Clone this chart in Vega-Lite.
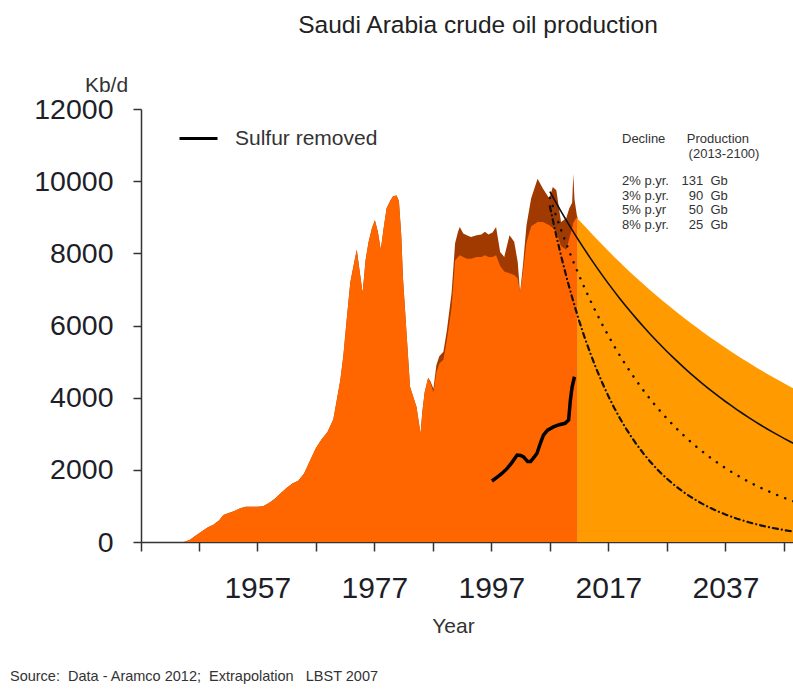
{
  "$schema": "https://vega.github.io/schema/vega-lite/v6.json",
  "width": 652,
  "height": 433,
  "autosize": {"type": "none"},
  "padding": {"left": 141, "top": 109, "right": 0, "bottom": 151},
  "background": "white",
  "title": {"text": "Saudi Arabia crude oil production", "fontSize": 24.5, "font": "Liberation Sans", "fontWeight": "normal", "color": "#222", "anchor": "middle", "dx": 11, "offset": 36},
  "config": {
    "view": {"stroke": null},
    "font": "Liberation Sans",
    "axis": {"domainColor": "#333", "domainWidth": 1.5, "tickColor": "#333", "tickWidth": 1.5, "labelColor": "#1e1e28", "titleColor": "#333", "labelFont": "Liberation Sans", "titleFont": "Liberation Sans", "titleFontWeight": "normal", "grid": false, "labelFlush": false, "labelOverlap": false}
  },
  "datasets": {
    "hist": [
      {"year": 1944.5, "total": 0, "crude": 0},
      {"year": 1945.5, "total": 60, "crude": 60},
      {"year": 1946.5, "total": 180, "crude": 180},
      {"year": 1947.5, "total": 290, "crude": 290},
      {"year": 1948.5, "total": 400, "crude": 400},
      {"year": 1949.5, "total": 480, "crude": 480},
      {"year": 1950.5, "total": 600, "crude": 600},
      {"year": 1951.2, "total": 750, "crude": 750},
      {"year": 1952, "total": 800, "crude": 800},
      {"year": 1953, "total": 850, "crude": 850},
      {"year": 1954, "total": 930, "crude": 930},
      {"year": 1955, "total": 980, "crude": 980},
      {"year": 1956, "total": 980, "crude": 980},
      {"year": 1957, "total": 980, "crude": 980},
      {"year": 1958, "total": 990, "crude": 990},
      {"year": 1959, "total": 1080, "crude": 1080},
      {"year": 1960, "total": 1200, "crude": 1200},
      {"year": 1961, "total": 1350, "crude": 1350},
      {"year": 1962, "total": 1500, "crude": 1500},
      {"year": 1963, "total": 1620, "crude": 1620},
      {"year": 1964, "total": 1700, "crude": 1700},
      {"year": 1965, "total": 1900, "crude": 1900},
      {"year": 1966, "total": 2250, "crude": 2250},
      {"year": 1967, "total": 2600, "crude": 2600},
      {"year": 1968, "total": 2850, "crude": 2850},
      {"year": 1969, "total": 3050, "crude": 3050},
      {"year": 1970, "total": 3400, "crude": 3400},
      {"year": 1970.6, "total": 3950, "crude": 3950},
      {"year": 1971.2, "total": 4500, "crude": 4500},
      {"year": 1971.7, "total": 5150, "crude": 5150},
      {"year": 1972.3, "total": 6200, "crude": 6200},
      {"year": 1972.9, "total": 7200, "crude": 7200},
      {"year": 1973.5, "total": 7700, "crude": 7700},
      {"year": 1974.0, "total": 8100, "crude": 8100},
      {"year": 1974.5, "total": 7500, "crude": 7500},
      {"year": 1975.0, "total": 6900, "crude": 6900},
      {"year": 1975.5, "total": 7800, "crude": 7800},
      {"year": 1976.0, "total": 8300, "crude": 8300},
      {"year": 1976.6, "total": 8700, "crude": 8700},
      {"year": 1977.1, "total": 8920, "crude": 8920},
      {"year": 1977.6, "total": 8600, "crude": 8600},
      {"year": 1978.1, "total": 8100, "crude": 8100},
      {"year": 1978.6, "total": 8700, "crude": 8700},
      {"year": 1979.1, "total": 9250, "crude": 9250},
      {"year": 1979.7, "total": 9450, "crude": 9450},
      {"year": 1980.2, "total": 9580, "crude": 9580},
      {"year": 1980.8, "total": 9600, "crude": 9600},
      {"year": 1981.2, "total": 9450, "crude": 9450},
      {"year": 1981.6, "total": 8500, "crude": 8500},
      {"year": 1981.9, "total": 7300, "crude": 7300},
      {"year": 1982.5, "total": 5800, "crude": 5800},
      {"year": 1983.1, "total": 4300, "crude": 4300},
      {"year": 1983.7, "total": 4000, "crude": 4000},
      {"year": 1984.2, "total": 3750, "crude": 3750},
      {"year": 1984.9, "total": 3000, "crude": 3000},
      {"year": 1985.2, "total": 3600, "crude": 3600},
      {"year": 1985.6, "total": 4150, "crude": 4150},
      {"year": 1986.2, "total": 4550, "crude": 4550},
      {"year": 1986.6, "total": 4450, "crude": 4400},
      {"year": 1987.1, "total": 4250, "crude": 4150},
      {"year": 1987.6, "total": 4900, "crude": 4700},
      {"year": 1988.1, "total": 5150, "crude": 4950},
      {"year": 1988.8, "total": 5270, "crude": 5050},
      {"year": 1989.4, "total": 5870, "crude": 5600},
      {"year": 1990.2, "total": 6900, "crude": 6500},
      {"year": 1990.8, "total": 8280, "crude": 7800},
      {"year": 1991.3, "total": 8600, "crude": 7900},
      {"year": 1991.6, "total": 8730, "crude": 7950},
      {"year": 1992.2, "total": 8550, "crude": 7900},
      {"year": 1992.8, "total": 8500, "crude": 7850},
      {"year": 1993.5, "total": 8450, "crude": 7850},
      {"year": 1994.5, "total": 8500, "crude": 7900},
      {"year": 1995.3, "total": 8520, "crude": 7900},
      {"year": 1995.9, "total": 8600, "crude": 7950},
      {"year": 1996.5, "total": 8520, "crude": 7900},
      {"year": 1997.2, "total": 8580, "crude": 7900},
      {"year": 1997.8, "total": 8730, "crude": 7950},
      {"year": 1998.5, "total": 8040, "crude": 7650},
      {"year": 1999.2, "total": 7900, "crude": 7500},
      {"year": 2000.1, "total": 8500, "crude": 7450},
      {"year": 2000.9, "total": 8320, "crude": 7400},
      {"year": 2001.5, "total": 7760, "crude": 7300},
      {"year": 2001.9, "total": 6900, "crude": 6900},
      {"year": 2002.4, "total": 7670, "crude": 7500},
      {"year": 2003.0, "total": 8780, "crude": 8300},
      {"year": 2003.8, "total": 9530, "crude": 8750},
      {"year": 2004.9, "total": 10070, "crude": 8870},
      {"year": 2005.8, "total": 9800, "crude": 8870},
      {"year": 2006.9, "total": 9520, "crude": 8780},
      {"year": 2007.5, "total": 9840, "crude": 8700},
      {"year": 2008.1, "total": 9750, "crude": 8600},
      {"year": 2008.9, "total": 8870, "crude": 8200},
      {"year": 2009.8, "total": 8970, "crude": 8100},
      {"year": 2010.3, "total": 9240, "crude": 8400},
      {"year": 2010.8, "total": 9400, "crude": 8700},
      {"year": 2011.0, "total": 10200, "crude": 8850},
      {"year": 2011.2, "total": 9500, "crude": 8900},
      {"year": 2011.6, "total": 9060, "crude": 9000},
      {"year": 2011.7, "total": 9000, "crude": 9000}
    ],
    "proj2": [
      {"year": 2011.7, "value": 8950},
      {"year": 2012, "value": 8920}, {"year": 2013, "value": 8742}, {"year": 2014, "value": 8567},
      {"year": 2015, "value": 8396}, {"year": 2016, "value": 8228}, {"year": 2017, "value": 8063},
      {"year": 2018, "value": 7901}, {"year": 2019, "value": 7743}, {"year": 2020, "value": 7589},
      {"year": 2021, "value": 7437}, {"year": 2022, "value": 7288}, {"year": 2023, "value": 7142},
      {"year": 2024, "value": 7000}, {"year": 2025, "value": 6859}, {"year": 2026, "value": 6722},
      {"year": 2027, "value": 6588}, {"year": 2028, "value": 6456}, {"year": 2029, "value": 6327},
      {"year": 2030, "value": 6200}, {"year": 2031, "value": 6076}, {"year": 2032, "value": 5955},
      {"year": 2033, "value": 5836}, {"year": 2034, "value": 5719}, {"year": 2035, "value": 5604},
      {"year": 2036, "value": 5492}, {"year": 2037, "value": 5383}, {"year": 2038, "value": 5275},
      {"year": 2039, "value": 5170}, {"year": 2040, "value": 5066}, {"year": 2041, "value": 4965},
      {"year": 2042, "value": 4866}, {"year": 2043, "value": 4769}, {"year": 2044, "value": 4673},
      {"year": 2045, "value": 4580}, {"year": 2046, "value": 4488}, {"year": 2047, "value": 4398},
      {"year": 2048, "value": 4310}, {"year": 2049, "value": 4224}
    ],
    "decline": [
      {"year": 2007, "r3": 9710, "r5": 9540, "r8": 9300},
      {"year": 2008, "r3": 9419, "r5": 9063, "r8": 8556},
      {"year": 2009, "r3": 9136, "r5": 8610, "r8": 7872},
      {"year": 2010, "r3": 8862, "r5": 8180, "r8": 7242},
      {"year": 2011, "r3": 8596, "r5": 7770, "r8": 6663},
      {"year": 2012, "r3": 8338, "r5": 7382, "r8": 6130},
      {"year": 2013, "r3": 8088, "r5": 7013, "r8": 5640},
      {"year": 2014, "r3": 7846, "r5": 6662, "r8": 5188},
      {"year": 2015, "r3": 7610, "r5": 6329, "r8": 4773},
      {"year": 2016, "r3": 7382, "r5": 6012, "r8": 4391},
      {"year": 2017, "r3": 7160, "r5": 5712, "r8": 4040},
      {"year": 2018, "r3": 6946, "r5": 5426, "r8": 3716},
      {"year": 2019, "r3": 6737, "r5": 5155, "r8": 3420},
      {"year": 2020, "r3": 6535, "r5": 4897, "r8": 3146},
      {"year": 2021, "r3": 6339, "r5": 4653, "r8": 2894},
      {"year": 2022, "r3": 6149, "r5": 4420, "r8": 2663},
      {"year": 2023, "r3": 5965, "r5": 4199, "r8": 2450},
      {"year": 2024, "r3": 5785, "r5": 3989, "r8": 2253},
      {"year": 2025, "r3": 5612, "r5": 3789, "r8": 2073},
      {"year": 2026, "r3": 5444, "r5": 3600, "r8": 1907},
      {"year": 2027, "r3": 5280, "r5": 3420, "r8": 1755},
      {"year": 2028, "r3": 5122, "r5": 3249, "r8": 1614},
      {"year": 2029, "r3": 4969, "r5": 3086, "r8": 1485},
      {"year": 2030, "r3": 4819, "r5": 2933, "r8": 1366},
      {"year": 2031, "r3": 4674, "r5": 2786, "r8": 1257},
      {"year": 2032, "r3": 4535, "r5": 2646, "r8": 1157},
      {"year": 2033, "r3": 4399, "r5": 2514, "r8": 1064},
      {"year": 2034, "r3": 4267, "r5": 2388, "r8": 979},
      {"year": 2035, "r3": 4138, "r5": 2269, "r8": 900},
      {"year": 2036, "r3": 4014, "r5": 2155, "r8": 829},
      {"year": 2037, "r3": 3894, "r5": 2047, "r8": 763},
      {"year": 2038, "r3": 3777, "r5": 1945, "r8": 702},
      {"year": 2039, "r3": 3664, "r5": 1848, "r8": 645},
      {"year": 2040, "r3": 3554, "r5": 1755, "r8": 594},
      {"year": 2041, "r3": 3447, "r5": 1668, "r8": 546},
      {"year": 2042, "r3": 3344, "r5": 1585, "r8": 502},
      {"year": 2043, "r3": 3243, "r5": 1505, "r8": 462},
      {"year": 2044, "r3": 3146, "r5": 1430, "r8": 425},
      {"year": 2045, "r3": 3052, "r5": 1358, "r8": 391},
      {"year": 2046, "r3": 2961, "r5": 1291, "r8": 360},
      {"year": 2047, "r3": 2871, "r5": 1226, "r8": 331},
      {"year": 2048, "r3": 2786, "r5": 1165, "r8": 305},
      {"year": 2049, "r3": 2702, "r5": 1107, "r8": 280}
    ],
    "sulfur": [
      {"year": 1997.1, "value": 1690, "series": "Sulfur removed"},
      {"year": 1998.0, "value": 1800, "series": "Sulfur removed"},
      {"year": 1998.8, "value": 1900, "series": "Sulfur removed"},
      {"year": 1999.7, "value": 2040, "series": "Sulfur removed"},
      {"year": 2000.5, "value": 2200, "series": "Sulfur removed"},
      {"year": 2001.4, "value": 2410, "series": "Sulfur removed"},
      {"year": 2002.0, "value": 2400, "series": "Sulfur removed"},
      {"year": 2002.5, "value": 2360, "series": "Sulfur removed"},
      {"year": 2003.2, "value": 2230, "series": "Sulfur removed"},
      {"year": 2003.7, "value": 2230, "series": "Sulfur removed"},
      {"year": 2004.3, "value": 2350, "series": "Sulfur removed"},
      {"year": 2004.8, "value": 2460, "series": "Sulfur removed"},
      {"year": 2005.4, "value": 2750, "series": "Sulfur removed"},
      {"year": 2005.9, "value": 2960, "series": "Sulfur removed"},
      {"year": 2006.6, "value": 3100, "series": "Sulfur removed"},
      {"year": 2007.6, "value": 3190, "series": "Sulfur removed"},
      {"year": 2008.6, "value": 3250, "series": "Sulfur removed"},
      {"year": 2009.6, "value": 3290, "series": "Sulfur removed"},
      {"year": 2010.2, "value": 3380, "series": "Sulfur removed"},
      {"year": 2010.5, "value": 3930, "series": "Sulfur removed"},
      {"year": 2010.8, "value": 4300, "series": "Sulfur removed"},
      {"year": 2011.2, "value": 4580, "series": "Sulfur removed"}
    ],
    "tableLeft": [
      {"year": 2019.32, "kbd": 11168, "label": "Decline"},
      {"year": 2030.4, "kbd": 11168, "label": "Production"},
      {"year": 2030.7, "kbd": 10752, "label": "(2013-2100)"},
      {"year": 2019.32, "kbd": 10004, "label": "2% p.yr."},
      {"year": 2019.32, "kbd": 9589, "label": "3% p.yr."},
      {"year": 2019.32, "kbd": 9201, "label": "5% p.yr"},
      {"year": 2019.32, "kbd": 8785, "label": "8% p.yr."}
    ],
    "tableRight": [
      {"year": 2037.4, "kbd": 10004, "label": "131\u00a0\u00a0Gb"},
      {"year": 2037.4, "kbd": 9589, "label": "90\u00a0\u00a0Gb"},
      {"year": 2037.4, "kbd": 9201, "label": "50\u00a0\u00a0Gb"},
      {"year": 2037.4, "kbd": 8785, "label": "25\u00a0\u00a0Gb"}
    ],
    "source": [
      {"year": 1914.74, "kbd": -3741, "label": "Source:\u00a0 Data - Aramco 2012;\u00a0 Extrapolation\u00a0\u00a0 LBST 2007"}
    ]
  },
  "encoding": {
    "x": {"field": "year", "type": "quantitative",
      "scale": {"domain": [1937.13, 2048.54], "nice": false, "zero": false},
      "axis": {"title": "Year", "values": [1937.13, 1947, 1957, 1967, 1977, 1987, 1997, 2007, 2017, 2027, 2037, 2047], "format": "d",
        "labelExpr": "indexof([1957,1977,1997,2017,2037], datum.value) >= 0 ? datum.label : ''",
        "tickSize": 9, "labelFontSize": 30, "labelPadding": 22, "titleFontSize": 21, "titleX": 312, "titleY": 90, "titleBaseline": "alphabetic"}}
  },
  "layer": [
    {"data": {"name": "hist"}, "mark": {"type": "area", "color": "#A03A00"},
      "encoding": {"y": {"field": "total", "type": "quantitative",
        "scale": {"domain": [0, 12000], "nice": false},
        "axis": {"title": "Kb/d", "values": [0, 2000, 4000, 6000, 8000, 10000, 12000], "format": "d", "tickSize": 8, "labelFontSize": 28.5, "labelPadding": 20,
          "titleAngle": 0, "titleX": -35, "titleY": -18, "titleAlign": "center", "titleBaseline": "alphabetic", "titleFontSize": 21}}}},
    {"data": {"name": "hist"}, "mark": {"type": "area", "color": "#FF6600"},
      "encoding": {"y": {"field": "crude", "type": "quantitative"}}},
    {"data": {"name": "proj2"}, "mark": {"type": "area", "color": "#FF9A00", "clip": true},
      "encoding": {"y": {"field": "value", "type": "quantitative"}}},
    {"data": {"name": "decline"}, "mark": {"type": "line", "color": "#111", "strokeWidth": 1.6, "clip": true},
      "encoding": {"y": {"field": "r3", "type": "quantitative"}}},
    {"data": {"name": "decline"}, "mark": {"type": "line", "color": "#111", "strokeWidth": 2.5, "strokeCap": "round", "strokeDash": [0.1, 8.5], "clip": true},
      "encoding": {"y": {"field": "r5", "type": "quantitative"}}},
    {"data": {"name": "decline"}, "mark": {"type": "line", "color": "#111", "strokeWidth": 2.2, "strokeCap": "round", "strokeDash": [5, 4, 0.1, 4], "clip": true},
      "encoding": {"y": {"field": "r8", "type": "quantitative"}}},
    {"data": {"name": "sulfur"}, "mark": {"type": "line", "strokeWidth": 3.5},
      "encoding": {"y": {"field": "value", "type": "quantitative"},
        "stroke": {"field": "series", "type": "nominal", "scale": {"range": ["#000000"]},
          "legend": {"title": null, "orient": "none", "legendX": 37, "legendY": 9, "symbolType": "stroke", "symbolSize": 1444, "symbolStrokeWidth": 3, "symbolStrokeColor": "#000",
            "labelFontSize": 21, "labelFont": "Liberation Sans", "labelColor": "#333", "labelOffset": 16}}}},
    {"data": {"name": "tableLeft"}, "mark": {"type": "text", "align": "left", "baseline": "middle", "fontSize": 13, "font": "Liberation Sans", "fill": "#333"},
      "encoding": {"y": {"field": "kbd", "type": "quantitative"}, "text": {"field": "label", "type": "nominal"}}},
    {"data": {"name": "tableRight"}, "mark": {"type": "text", "align": "right", "baseline": "middle", "fontSize": 13, "font": "Liberation Sans", "fill": "#333"},
      "encoding": {"y": {"field": "kbd", "type": "quantitative"}, "text": {"field": "label", "type": "nominal"}}},
    {"data": {"name": "source"}, "mark": {"type": "text", "align": "left", "baseline": "middle", "fontSize": 14.5, "font": "Liberation Sans", "fill": "#333", "clip": false},
      "encoding": {"y": {"field": "kbd", "type": "quantitative"}, "text": {"field": "label", "type": "nominal"}}}
  ]
}
